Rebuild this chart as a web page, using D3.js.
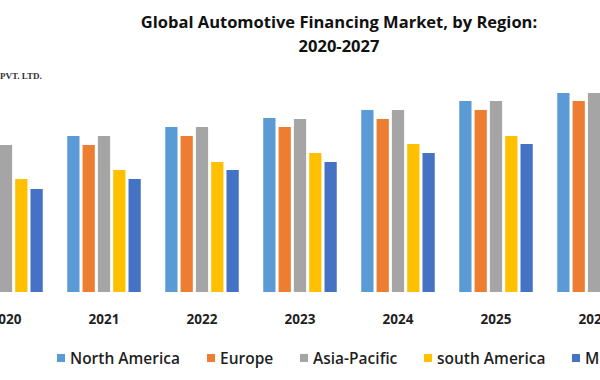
<!DOCTYPE html>
<html>
<head>
<meta charset="utf-8">
<script src="https://cdn.jsdelivr.net/npm/d3@7"></script>
<style>
  body { margin: 0; background: #fff; }
  svg { display: block; }
</style>
</head>
<body>
<script>
// Chart data
var years = ["2020", "2021", "2022", "2023", "2024", "2025", "2026", "2027"];
var regions = ["North America", "Europe", "Asia-Pacific", "south America", "Middle East & Africa"];
var colors = ["#5B9BD5", "#ED7D31", "#A5A5A5", "#FFC000", "#4472C4"];

var northAmerica = [73.5, 78, 82.5, 87, 91, 95.5, 99.5, 104];
var europe       = [69, 73.5, 78, 82.5, 86.5, 91, 95.5, 99.5];
var asiaPacific  = [73.5, 78, 82.5, 86.5, 91, 95.5, 99.5, 104];
var southAmerica = [56.5, 61, 65, 69.5, 74, 78, 82.5, 87];
var mea          = [51.5, 56.5, 61, 65, 69.5, 74, 78, 82.5];
var series = [northAmerica, europe, asiaPacific, southAmerica, mea];

var svgWidth = 600;
var svgHeight = 380;

var svg = d3.select("body")
  .append("svg")
  .attr("width", svgWidth)
  .attr("height", svgHeight);

// the original chart is wider than the frame, so the year bands spill off both edges
var x0 = d3.scaleBand()
  .domain(years)
  .range([-43, 741])
  .paddingInner(0.25)
  .paddingOuter(0.125);

var x1 = d3.scaleBand()
  .domain(regions)
  .range([0, x0.bandwidth()])
  .paddingInner(0.2);

var yScale = d3.scaleLinear()
  .domain([0, 100])
  .range([292, 92]);

// bars
var groups = svg.selectAll("g.year")
  .data(years)
  .enter()
  .append("g")
  .attr("class", "year")
  .attr("transform", d => `translate(${x0(d)},0)`);

groups.selectAll("rect")
  .data((d, i) => regions.map((r, j) => ({ region: r, value: series[j][i], color: colors[j] })))
  .enter()
  .append("rect")
  .attr("x", d => x1(d.region))
  .attr("y", d => yScale(d.value))
  .attr("width", x1.bandwidth())
  .attr("height", d => yScale(0) - yScale(d.value))
  .attr("fill", d => d.color);

// x axis (labels only)
var xAxis = d3.axisBottom(x0).tickSize(0).tickPadding(22);
var axisG = svg.append("g")
  .attr("transform", `translate(0, ${yScale(0)})`)
  .call(xAxis);
axisG.select(".domain").remove();
axisG.selectAll("text")
  .attr("font-family", "'Open Sans', sans-serif")
  .attr("font-weight", "bold")
  .attr("font-size", 13.5)
  .attr("fill", "#1f1f1f");

// title
var title = svg.append("text")
  .attr("text-anchor", "middle")
  .attr("font-family", "'Open Sans', sans-serif")
  .attr("font-weight", "bold")
  .attr("font-size", 16.5)
  .attr("fill", "#111");
title.append("tspan").attr("x", 339).attr("y", 28)
  .text("Global Automotive Financing Market, by Region:");
title.append("tspan").attr("x", 339).attr("y", 52)
  .text("2020-2027");

// watermark fragment
svg.append("text")
  .attr("x", 0)
  .attr("y", 79)
  .attr("font-family", "'Liberation Serif', serif")
  .attr("font-weight", "bold")
  .attr("font-size", 9)
  .attr("fill", "#333")
  .text("PVT. LTD.");

// legend
var legendX = [57, 207, 300, 424, 572];
var legend = svg.selectAll("g.legend")
  .data(regions)
  .enter()
  .append("g")
  .attr("class", "legend")
  .attr("transform", (d, i) => `translate(${legendX[i]}, 358)`);

legend.append("rect")
  .attr("x", 0)
  .attr("y", -4)
  .attr("width", 8)
  .attr("height", 8)
  .attr("fill", (d, i) => colors[i]);

legend.append("text")
  .attr("x", 13)
  .attr("y", 6)
  .attr("font-family", "'Open Sans', sans-serif")
  .attr("font-weight", 600)
  .attr("font-size", 15.5)
  .attr("fill", "#1f1f1f")
  .text(d => d);
</script>
</body>
</html>
